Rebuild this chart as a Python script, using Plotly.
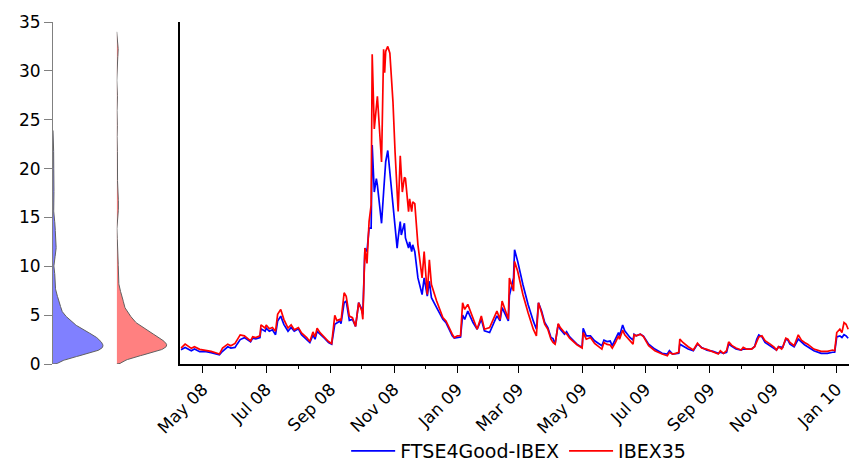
import numpy as np
import pandas as pd
import plotly.graph_objects as go

# Observation dates for the two volatility series
dates = [
    "2008-04-10", "2008-04-14", "2008-04-20", "2008-04-23", "2008-04-28", "2008-05-03",
    "2008-05-09", "2008-05-17", "2008-05-20", "2008-05-25", "2008-05-28", "2008-06-01",
    "2008-06-03", "2008-06-06", "2008-06-10", "2008-06-13", "2008-06-16", "2008-06-18",
    "2008-06-21", "2008-06-25", "2008-06-26", "2008-06-30", "2008-07-01", "2008-07-04",
    "2008-07-07", "2008-07-10", "2008-07-12", "2008-07-15", "2008-07-18", "2008-07-22",
    "2008-07-25", "2008-07-28", "2008-08-01", "2008-08-04", "2008-08-09", "2008-08-12",
    "2008-08-15", "2008-08-17", "2008-08-19", "2008-08-22", "2008-08-26", "2008-08-30",
    "2008-09-02", "2008-09-05", "2008-09-07", "2008-09-10", "2008-09-11", "2008-09-14",
    "2008-09-16", "2008-09-19", "2008-09-22", "2008-09-25", "2008-09-28", "2008-10-01",
    "2008-10-02", "2008-10-04", "2008-10-06", "2008-10-08", "2008-10-10", "2008-10-11",
    "2008-10-13", "2008-10-15", "2008-10-16", "2008-10-18", "2008-10-20", "2008-10-22",
    "2008-10-23", "2008-10-24", "2008-10-26", "2008-10-28", "2008-10-31", "2008-11-02",
    "2008-11-04", "2008-11-05", "2008-11-07", "2008-11-08", "2008-11-09", "2008-11-11",
    "2008-11-12", "2008-11-15", "2008-11-16", "2008-11-18", "2008-11-19", "2008-11-21",
    "2008-11-24", "2008-11-28", "2008-11-30", "2008-12-03", "2008-12-05", "2008-12-07",
    "2008-12-12", "2008-12-18", "2008-12-21", "2008-12-27", "2008-12-29", "2009-01-01",
    "2009-01-04", "2009-01-06", "2009-01-08", "2009-01-11", "2009-01-16", "2009-01-20",
    "2009-01-24", "2009-01-27", "2009-02-01", "2009-02-08", "2009-02-11", "2009-02-13",
    "2009-02-19", "2009-02-20", "2009-02-24", "2009-02-25", "2009-02-28", "2009-03-05",
    "2009-03-10", "2009-03-15", "2009-03-18", "2009-03-20", "2009-03-23", "2009-03-26",
    "2009-03-29", "2009-04-01", "2009-04-03", "2009-04-05", "2009-04-08", "2009-04-10",
    "2009-04-14", "2009-04-16", "2009-04-19", "2009-04-26", "2009-05-01", "2009-05-02",
    "2009-05-05", "2009-05-09", "2009-05-13", "2009-05-20", "2009-05-22", "2009-05-25",
    "2009-05-28", "2009-05-30", "2009-06-02", "2009-06-05", "2009-06-06", "2009-06-09",
    "2009-06-11", "2009-06-16", "2009-06-19", "2009-06-20", "2009-06-22", "2009-06-26",
    "2009-06-29", "2009-07-04", "2009-07-10", "2009-07-17", "2009-07-22", "2009-07-24",
    "2009-07-27", "2009-07-30", "2009-08-02", "2009-08-03", "2009-08-06", "2009-08-11",
    "2009-08-16", "2009-08-20", "2009-08-24", "2009-08-29", "2009-09-04", "2009-09-09",
    "2009-09-11", "2009-09-14", "2009-09-17", "2009-09-19", "2009-09-22", "2009-09-26",
    "2009-10-01", "2009-10-03", "2009-10-06", "2009-10-11", "2009-10-14", "2009-10-16",
    "2009-10-18", "2009-10-21", "2009-10-24", "2009-10-29", "2009-11-02", "2009-11-04",
    "2009-11-06", "2009-11-09", "2009-11-10", "2009-11-13", "2009-11-15", "2009-11-17",
    "2009-11-21", "2009-11-25", "2009-11-28", "2009-12-01", "2009-12-04", "2009-12-10",
    "2009-12-17", "2009-12-23", "2009-12-28", "2009-12-30", "2010-01-01", "2010-01-04",
    "2010-01-06", "2010-01-08", "2010-01-10", "2010-01-12",
]

ftse4good_ibex = [
    1.46, 1.70, 1.36, 1.53, 1.26, 1.30,
    1.16, 0.95, 1.30, 1.76, 1.63, 1.70,
    2.03, 2.50, 2.70, 2.44, 2.27, 2.64,
    2.58, 2.71, 3.60, 3.35, 3.67, 3.35,
    3.50, 3.00, 4.40, 4.90, 4.06, 3.35,
    3.74, 3.35, 3.60, 3.00, 2.54, 2.20,
    2.95, 2.54, 3.35, 3.00, 2.64, 2.20,
    2.03, 4.06, 4.20, 4.40, 4.13, 6.27,
    6.44, 4.47, 4.57, 3.84, 6.27, 5.59,
    5.08, 11.86, 11.52, 13.90, 13.90, 22.40,
    17.60, 18.97, 18.30, 16.26, 14.40, 17.60,
    19.30, 20.70, 21.85, 19.65, 16.26, 13.90,
    11.86, 12.90, 14.57, 13.20, 13.55, 14.40,
    12.90, 11.86, 12.50, 11.50, 12.20, 11.50,
    8.81, 7.11, 8.81, 6.95, 8.47, 6.78,
    5.76, 4.57, 4.24, 2.88, 2.65, 2.71,
    2.75, 5.00, 4.57, 5.42, 4.24, 3.56,
    4.57, 3.39, 3.22, 4.92, 4.41, 5.76,
    4.41, 7.00, 8.81, 11.69, 10.50, 8.13,
    6.10, 4.41, 3.56, 6.27, 5.42, 4.24,
    3.73, 2.71, 2.60, 2.03, 4.07, 3.56,
    3.05, 3.30, 2.78, 2.03, 1.70, 3.66,
    2.88, 2.88, 2.38, 1.87, 2.44, 2.30,
    2.35, 1.87, 2.54, 3.22, 2.88, 4.00,
    3.39, 2.71, 2.44, 3.05, 2.88, 3.05,
    2.85, 2.03, 1.53, 1.09, 1.02, 1.36,
    1.02, 1.02, 1.09, 2.03, 1.87, 1.53,
    1.36, 2.03, 1.70, 1.42, 1.29, 1.09,
    1.20, 1.09, 1.20, 2.03, 1.80, 1.53,
    1.43, 1.53, 1.53, 1.53, 1.80, 2.54,
    2.98, 2.78, 2.20, 1.87, 1.53, 1.43,
    1.77, 1.70, 1.70, 2.54, 2.44, 2.03,
    1.77, 2.54, 2.20, 1.97, 1.77, 1.36,
    1.09, 1.09, 1.20, 1.20, 2.78, 2.88,
    2.71, 3.00, 2.88, 2.64,
]

ibex35 = [
    1.63, 2.03, 1.60, 1.77, 1.50, 1.42,
    1.29, 1.02, 1.63, 2.03, 1.87, 2.10,
    2.44, 2.98, 2.88, 2.60, 2.37, 2.78,
    2.71, 2.88, 4.00, 3.67, 4.00, 3.60,
    3.73, 3.35, 5.08, 5.59, 4.57, 3.67,
    4.00, 3.50, 3.73, 3.18, 2.71, 2.30,
    3.28, 2.78, 3.67, 3.18, 2.71, 2.30,
    2.10, 4.98, 4.44, 4.57, 4.40, 7.29,
    6.94, 4.90, 4.74, 3.84, 6.27, 5.42,
    4.57, 11.86, 10.30, 14.57, 16.30, 31.70,
    24.05, 26.80, 27.40, 24.05, 20.67, 32.20,
    29.80, 32.00, 32.50, 31.80, 26.80, 21.70,
    17.30, 15.60, 21.30, 19.00, 17.60, 19.10,
    19.00, 15.60, 16.90, 15.60, 16.60, 16.40,
    12.20, 8.81, 11.50, 7.11, 10.67, 8.13,
    6.44, 4.75, 4.41, 3.05, 2.71, 2.88,
    2.90, 6.27, 5.59, 6.10, 4.75, 3.56,
    4.92, 3.56, 3.73, 5.42, 4.57, 6.44,
    4.57, 8.81, 7.46, 10.50, 9.49, 7.11,
    5.25, 3.56, 2.88, 6.27, 5.25, 4.07,
    3.56, 2.54, 2.20, 2.03, 4.13, 3.73,
    3.22, 3.10, 2.64, 1.97, 1.63, 3.22,
    2.54, 2.71, 2.10, 1.53, 2.20, 2.00,
    1.95, 1.63, 2.20, 2.88, 2.54, 3.46,
    2.98, 2.38, 2.03, 2.98, 2.88, 3.05,
    2.80, 1.87, 1.36, 1.02, 0.85, 1.19,
    1.02, 1.09, 1.19, 2.54, 2.20, 1.77,
    1.43, 2.13, 1.63, 1.50, 1.20, 1.02,
    1.36, 1.09, 1.36, 2.27, 1.90, 1.63,
    1.43, 1.70, 1.53, 1.53, 1.77, 2.38,
    2.78, 2.88, 2.38, 2.03, 1.70, 1.43,
    1.77, 1.53, 1.70, 2.64, 2.54, 2.20,
    1.87, 2.98, 2.44, 2.20, 2.03, 1.53,
    1.30, 1.30, 1.43, 1.36, 3.22, 3.56,
    3.22, 4.24, 4.07, 3.56,
]

y_ticks = [0, 5, 10, 15, 20, 25, 30, 35]
series_names = ["FTSE4Good-IBEX", "IBEX35"]
line_colors = ["#0000ff", "#ff0000"]
fill_colors = ["rgb(128,128,255)", "rgb(255,128,128)"]

FONT = "DejaVu Sans"


def time_weighted_kde(values, when, bandwidth=0.6):
    """Gaussian kernel density of a series, each observation weighted by
    the span of calendar time it stands for."""
    v = np.asarray(values, dtype=float)
    t = pd.to_datetime(pd.Series(when)).astype("int64").to_numpy() / 8.64e13
    edges = np.concatenate([[t[0]], (t[1:] + t[:-1]) / 2, [t[-1]]])
    w = np.diff(edges)
    w = w / w.sum()
    grid = np.linspace(0, v.max() + 2.5 * bandwidth, 600)
    z = (grid[:, None] - v[None, :]) / bandwidth
    dens = (np.exp(-0.5 * z ** 2) * w[None, :]).sum(axis=1)
    return grid, dens / dens.max()


fig = go.Figure()

# Marginal densities drawn as half-violin outlines beside the value axis
for i, (vals, fc) in enumerate(zip([ftse4good_ibex, ibex35], fill_colors)):
    ax = "" if i == 0 else str(i + 1)
    grid, dens = time_weighted_kde(vals, dates)
    fig.add_trace(go.Scatter(
        x=np.concatenate([[0], dens, [0]]),
        y=np.concatenate([[grid[0]], grid, [grid[-1]]]),
        mode="lines", fill="toself", fillcolor=fc,
        line=dict(color="#606060", width=1),
        showlegend=False, hoverinfo="skip",
        xaxis="x" + ax, yaxis="y" + ax,
    ))

# Time series panel
for vals, name, col in zip([ftse4good_ibex, ibex35], series_names, line_colors):
    fig.add_trace(go.Scatter(
        x=dates, y=vals, mode="lines", name=name,
        line=dict(color=col, width=1.7),
        xaxis="x3", yaxis="y3",
    ))

hidden_x = dict(visible=False, range=[0, 1.14], fixedrange=True)

fig.update_layout(
    width=849, height=470,
    margin=dict(l=53, r=0, t=22, b=103),
    paper_bgcolor="white", plot_bgcolor="white",
    font=dict(family=FONT, size=15, color="black"),
    xaxis=dict(domain=[0, 0.0716], anchor="y", **hidden_x),
    xaxis2=dict(domain=[0.080, 0.1516], anchor="y2", **hidden_x),
    xaxis3=dict(
        domain=[0.16, 1], anchor="y3", type="date",
        range=["2008-04-09 10:00", "2010-01-12 19:00"],
        showline=True, linecolor="black", linewidth=1.5,
        ticks="outside", ticklen=7, tickwidth=1, tickcolor="black",
        tick0="2008-05-01", dtick="M2", tickformat="%b %y", tickangle=-45,
        minor=dict(dtick="M1", tick0="2008-05-01", ticks="outside", ticklen=3,
                   tickcolor="black", showgrid=False),
        showgrid=False, zeroline=False,
        tickfont=dict(family=FONT, size=17),
    ),
    yaxis=dict(
        domain=[0, 1], anchor="x", range=[0, 35], tickvals=y_ticks,
        showline=True, linecolor="#808080", linewidth=1,
        ticks="outside", ticklen=8, tickcolor="#808080",
        showgrid=False, zeroline=False,
        tickfont=dict(family=FONT, size=17),
    ),
    yaxis2=dict(domain=[0, 1], anchor="x2", range=[0, 35], visible=False),
    yaxis3=dict(
        domain=[0, 1], anchor="x3", range=[0, 35],
        showline=True, linecolor="black", linewidth=1.5,
        showticklabels=False, ticks="", showgrid=False, zeroline=False,
    ),
    legend=dict(
        orientation="h", x=0.585, xanchor="center", y=-0.256, yanchor="middle",
        font=dict(family=FONT, size=19), bgcolor="rgba(0,0,0,0)",
        itemwidth=44,
    ),
    showlegend=True,
)

fig.write_html("out.html")
